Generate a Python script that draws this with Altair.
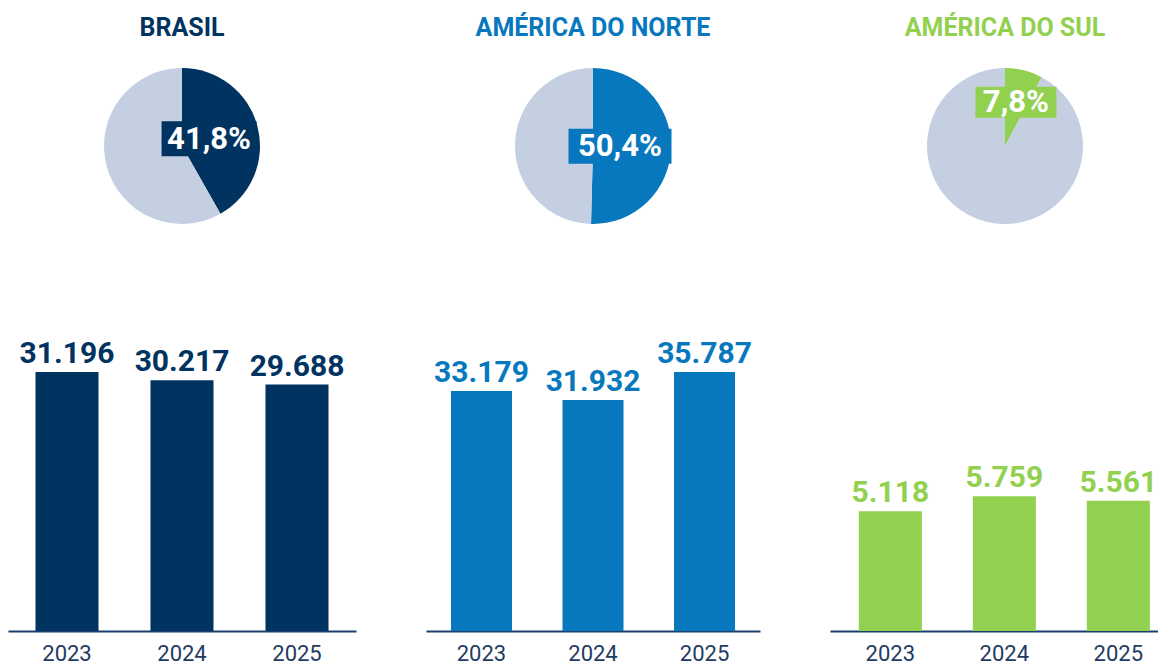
import altair as alt
import pandas as pd

# ---- data ----
regions = ["BRASIL", "AMÉRICA DO NORTE", "AMÉRICA DO SUL"]
shares = [0.418, 0.504, 0.078]
share_labels = ["41,8%", "50,4%", "7,8%"]
years = ["2023", "2024", "2025"]
brasil_values = [31196, 30217, 29688]
norte_values = [33179, 31932, 35787]
sul_values = [5118, 5759, 5561]
series = [brasil_values, norte_values, sul_values]

# ---- style ----
colors = ["#00335F", "#0878BE", "#92D050"]
GREY = "#C4CFE2"
AXIS = "#1B3F6E"
YEARC = "#1F3B63"
FONT = "Roboto"

widths = [348, 334, 328]
pie_dx = [0, 0, 11]
label_r = [28, 27, 45]
box_w = [95, 103, 81]
box_h = [35, 35, 31]
y_max = [36145, 41465, 12810]
bands = [(0.452, 0.239, 0.5), (0.453, 0.224, 0.5), (0.447, 0.162, 0.78)]
PIE_H = 160
BAR_H = 300


def fmt(v):
    return f"{v:,}".replace(",", ".")


def pie(i):
    W = widths[i]
    dx = pie_dx[i]
    R = label_r[i]
    df = pd.DataFrame({"part": ["share", "rest"],
                       "value": [shares[i], 1 - shares[i]],
                       "order": [0, 1]})
    lab = pd.DataFrame({"share": [shares[i]], "label": [share_labels[i]]})
    tscale = alt.Scale(domain=[0, 1])
    arc = alt.Chart(df).mark_arc(outerRadius=78, xOffset=dx).encode(
        theta=alt.Theta("value:Q", stack=True, scale=tscale),
        color=alt.Color("part:N", scale=alt.Scale(domain=["share", "rest"], range=[colors[i], GREY]), legend=None),
        order=alt.Order("order:Q"),
    )
    box = alt.Chart(lab).transform_calculate(
        cx=f"{W / 2 + dx} + {R} * sin(datum.share * PI)",
        cy=f"{PIE_H / 2} - {R} * cos(datum.share * PI)",
    ).transform_calculate(
        bx1=f"datum.cx - {box_w[i] / 2}",
        bx2=f"datum.cx + {box_w[i] / 2}",
        by1=f"datum.cy - {box_h[i] / 2}",
        by2=f"datum.cy + {box_h[i] / 2}",
    ).mark_rect(color=colors[i]).encode(
        x=alt.X("bx1:Q", scale=None),
        x2="bx2:Q",
        y=alt.Y("by1:Q", scale=None),
        y2="by2:Q",
    )
    txt = alt.Chart(lab).transform_calculate(mid="datum.share / 2").mark_text(
        radius=R, xOffset=dx, dy=1, font=FONT, fontSize=31, fontWeight="bold", color="white"
    ).encode(
        theta=alt.Theta("mid:Q", stack=False, scale=tscale),
        text="label:N",
    )
    return alt.layer(arc, box, txt).properties(
        width=W, height=PIE_H,
        title=alt.Title(text=regions[i], color=colors[i], font=FONT, fontSize=25,
                        fontWeight="bold", anchor="middle", offset=25, dx=dx),
    )


def bars(i):
    values = series[i]
    df = pd.DataFrame({"year": years, "value": values, "label": [fmt(v) for v in values]})
    pi_, po_, al_ = bands[i]
    base = alt.Chart(df).encode(
        x=alt.X("year:N", sort=years,
                scale=alt.Scale(paddingInner=pi_, paddingOuter=po_, align=al_),
                axis=alt.Axis(title=None, labelAngle=0, ticks=False, tickSize=0, grid=False,
                              domainColor=AXIS, domainWidth=2, labelColor=YEARC,
                              labelFont=FONT, labelFontSize=22, labelPadding=12)),
        y=alt.Y("value:Q", scale=alt.Scale(domain=[0, y_max[i]]), axis=None),
    )
    b = base.mark_bar(color=colors[i])
    t = base.mark_text(dy=-9, baseline="alphabetic", font=FONT, fontSize=30,
                       fontWeight="bold", color=colors[i]).encode(text="label:N")
    return alt.layer(b, t).properties(width=widths[i], height=BAR_H)


cols = [alt.vconcat(pie(i), bars(i), spacing=105) for i in range(3)]
chart = alt.hconcat(*cols, spacing=70).resolve_scale(color="independent").properties(
    padding={"top": 8, "left": 0, "right": 0, "bottom": 0}, background="white"
).configure_view(stroke=None)

chart.save("out.html", embed_options={"renderer": "svg", "actions": False})
